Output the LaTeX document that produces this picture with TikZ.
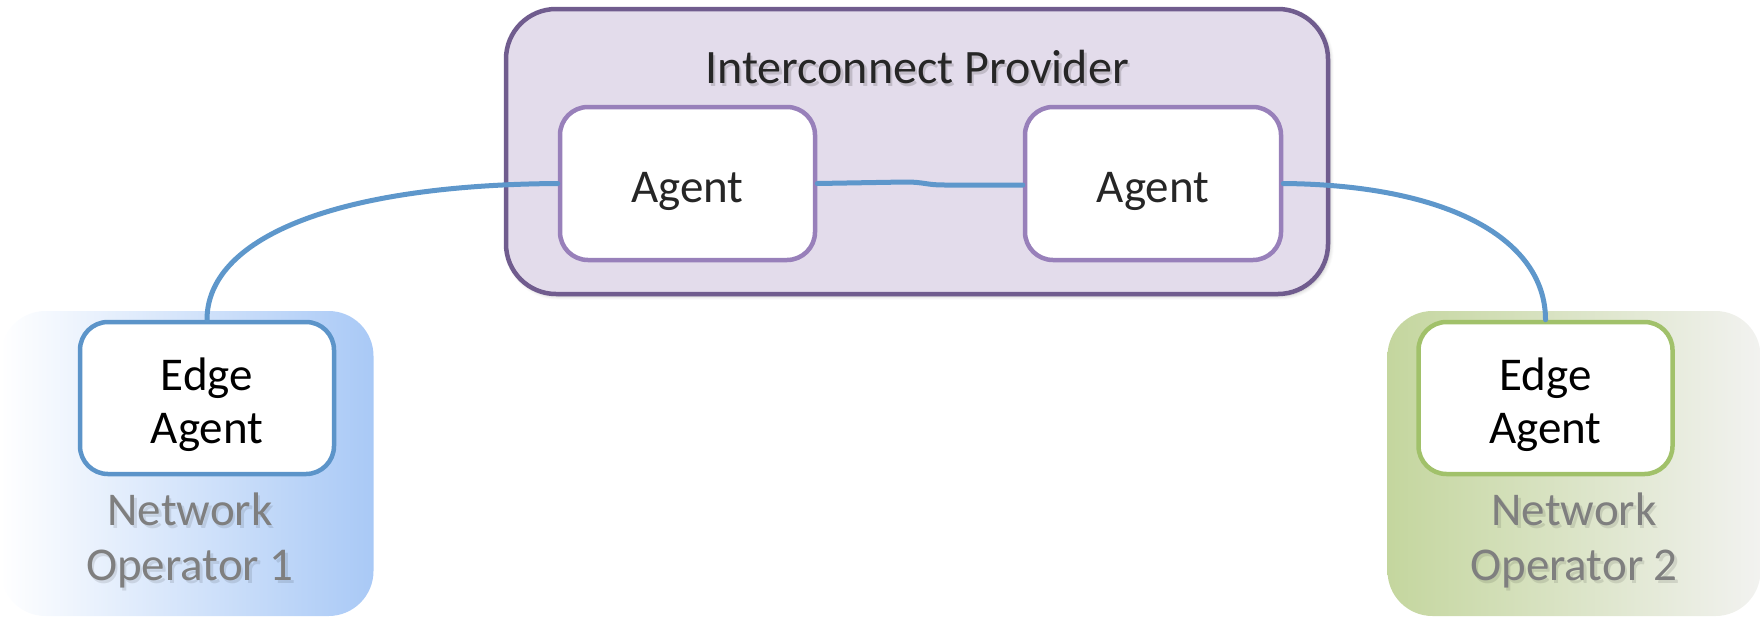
\documentclass[tikz,border=0pt]{standalone}
\usepackage{fontspec}
\setmainfont{Carlito}
\usetikzlibrary{shadows.blur}

\definecolor{ipfill}{HTML}{E3DCEB}
\definecolor{ipdraw}{HTML}{705C8E}
\definecolor{agdraw}{HTML}{9880BA}
\definecolor{linkblue}{HTML}{5E97CB}
\definecolor{eaone}{HTML}{5C94C9}
\definecolor{eatwo}{HTML}{A1C16A}
\definecolor{noone}{HTML}{A9C9F6}
\definecolor{notwo}{HTML}{C4D69E}
\definecolor{nofade}{HTML}{F2F2F0}
\definecolor{optext}{HTML}{7F7F7F}
\definecolor{darktext}{HTML}{262626}

% invisible struts that push a label down inside its box
\newcommand{\lowerA}{\rule{0pt}{46pt}}
\newcommand{\lowerB}{\rule{0pt}{47pt}}
\newcommand{\lowerC}{\rule{0pt}{38pt}}

\tikzset{
  softshadow/.style={blur shadow={shadow blur steps=6, shadow xshift=2pt,
      shadow yshift=-2pt, shadow opacity=25, shadow blur radius=4pt}},
  agentbox/.style={draw=agdraw, line width=4.5pt, fill=white, rounded corners=28pt,
      minimum width=255pt, minimum height=153pt, align=center,
      font=\fontsize{47}{53}\selectfont, text=darktext},
  edgebox/.style={line width=4.5pt, fill=white, rounded corners=28pt,
      minimum width=254pt, minimum height=152pt, align=center,
      font=\fontsize{47}{53}\selectfont, text=black},
  opbg/.style={rounded corners=45pt, minimum width=373pt, minimum height=305pt,
      inner sep=0pt},
  optitle/.style={align=center, font=\fontsize{47}{55}\selectfont, text=optext},
  opshade/.style={align=center, font=\fontsize{47}{55}\selectfont,
      text=black, opacity=0.1},
  link/.style={draw=linkblue, line width=5pt, line cap=round},
}

\begin{document}
\begin{tikzpicture}[x=1pt, y=-1pt]
  \useasboundingbox (0,0) rectangle (1760,619);

  % operator domains
  \node[opbg, left color=white, right color=noone] (no1) at (187,463.5) {};
  \node[opbg, left color=notwo, right color=nofade] (no2) at (1574,463.5) {};

  % interconnect provider
  \node[draw=ipdraw, line width=4.5pt, fill=ipfill, rounded corners=50pt,
        minimum width=822pt, minimum height=285pt, softshadow] (ip) at (917,151.5) {};
  \node[text=black, opacity=0.15, font=\fontsize{48}{54}\selectfont] (ipshade) at (919.5,70.5) {Interconnect Provider};
  \node[text=darktext, font=\fontsize{48}{54}\selectfont] (iptitle) at (917,67) {Interconnect Provider};

  % agents
  \node[agentbox] (agl) at (687.5,183.5) {\lowerA Agent};
  \node[agentbox, minimum width=256pt] (agr) at (1153,183.5) {\lowerA Agent};

  % edge agents
  \node[edgebox, draw=eaone] (ea1) at (207,398) {\lowerB Edge\\Agent};
  \node[edgebox, draw=eatwo] (ea2) at (1545.5,398) {\lowerB Edge\\Agent};

  % operator labels
  \node[opshade] (op1s) at (192.5,541) {\lowerC Network\\Operator 1};
  \node[optitle] (op1) at (190,538) {\lowerC Network\\Operator 1};
  \node[opshade] (op2s) at (1576.5,541) {\lowerC Network\\Operator 2};
  \node[optitle] (op2) at (1574,538) {\lowerC Network\\Operator 2};

  % links
  \draw[link] (agl.west) .. controls (330,185) and (ea1.north |- 0,240) .. (ea1.north);
  \draw[link] (agl.east) -- (905,182) .. controls (925,182) and (925,185) .. (945,185) -- (agr.west |- 0,185);
  \draw[link] (agr.east) .. controls (1450,185) and (ea2.north |- 0,240) .. (ea2.north);
\end{tikzpicture}
\end{document}
